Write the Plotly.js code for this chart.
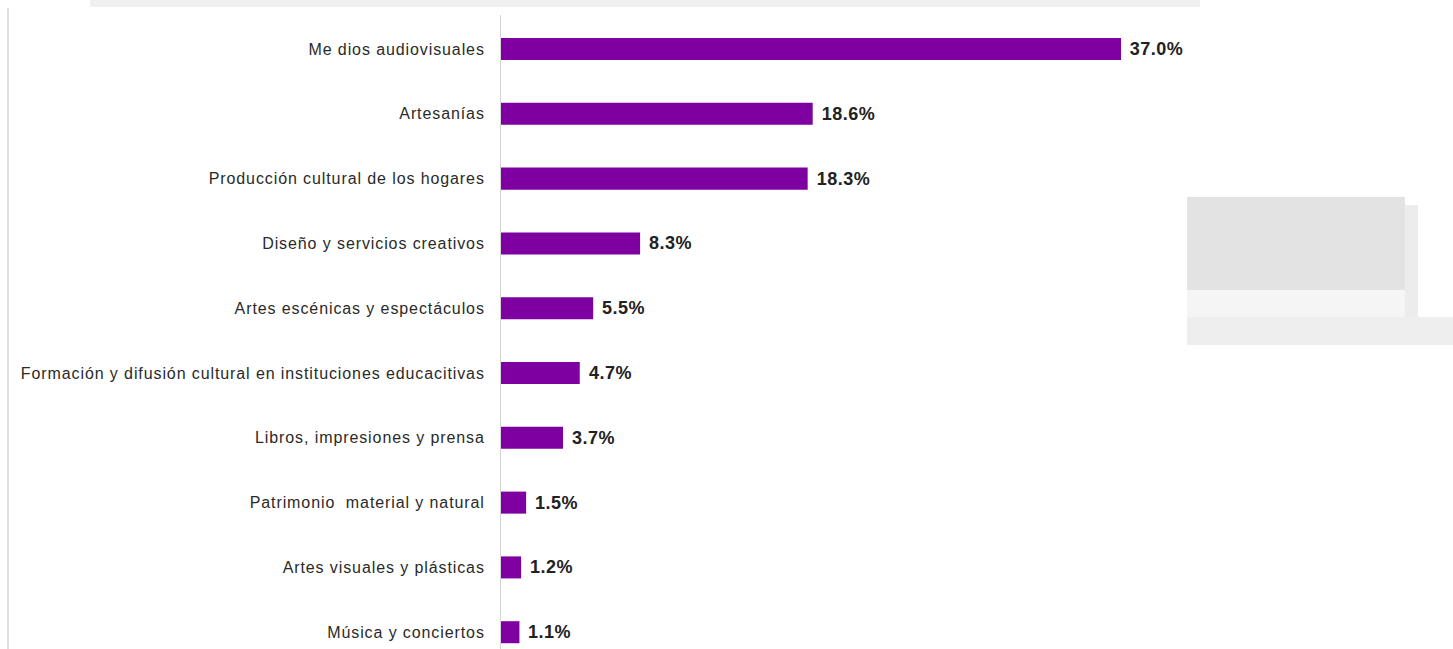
<!DOCTYPE html>
<html>
<head>
<meta charset="utf-8">
<script src="https://cdn.plot.ly/plotly-3.0.1.min.js"></script>
<style>
html,body{margin:0;padding:0;background:#fff;}
#chart{width:1453px;height:649px;}
#chart .ytick text{letter-spacing:0.9px;}
#chart .annotation-text{letter-spacing:0.5px;}
</style>
</head>
<body>
<div id="chart"></div>
<script>
const categories = [
  "Me dios audiovisuales",
  "Artesanías",
  "Producción cultural de los hogares",
  "Diseño y servicios creativos",
  "Artes escénicas y espectáculos",
  "Formación y difusión cultural en instituciones educacitivas",
  "Libros, impresiones y prensa",
  "Patrimonio  material y natural",
  "Artes visuales y plásticas",
  "Música y conciertos"
];
const values = [37.0, 18.6, 18.3, 8.3, 5.5, 4.7, 3.7, 1.5, 1.2, 1.1];
const valueLabels = values.map(v => v.toFixed(1) + "%");

const barColor = "#7E00A1";

const trace = {
  type: "bar",
  orientation: "h",
  x: values,
  y: categories,
  marker: {color: barColor, line: {width: 0}},
  width: 0.34,
  hoverinfo: "skip"
};

const annotations = values.map((v, i) => ({
  x: v, y: categories[i], xref: "x", yref: "y",
  text: "<b>" + valueLabels[i] + "</b>",
  showarrow: false, xanchor: "left", yanchor: "middle", xshift: 8,
  font: {family: "Liberation Sans, Arial, sans-serif", size: 18, color: "#222"}
}));

const P = x => (x - 501) / 952;      // page px -> paper x
const Q = y => (649 - y) / 634;      // page px -> paper y

const layout = {
  width: 1453, height: 649,
  margin: {l: 501, r: 0, t: 15, b: 0, pad: 0},
  paper_bgcolor: "#fff", plot_bgcolor: "#fff",
  showlegend: false,
  xaxis: {range: [0, 56.81], visible: false, showgrid: false, zeroline: false, fixedrange: true},
  yaxis: {
    type: "category",
    range: [9.259, -0.525],
    showgrid: false, zeroline: false,
    showline: true, linecolor: "#d4d4d4", linewidth: 1,
    ticks: "outside", ticklen: 12, tickcolor: "rgba(0,0,0,0)",
    tickfont: {family: "Liberation Sans, Arial, sans-serif", size: 16, color: "#2a2a2a"},
    automargin: false
  },
  annotations: annotations,
  shapes: [
    {type: "line", xref: "paper", yref: "paper", x0: P(8), x1: P(8), y0: 0, y1: Q(8), line: {color: "#d6d6d6", width: 1.5}},
    {type: "rect", xref: "paper", yref: "paper", x0: P(90), x1: P(1200), y0: Q(7), y1: Q(0), line: {width: 0}, fillcolor: "#f0f0f0", layer: "below"},
    {type: "rect", xref: "paper", yref: "paper", x0: P(1187), x1: P(1405), y0: Q(290), y1: Q(197), line: {width: 0}, fillcolor: "#e3e3e3", layer: "below"},
    {type: "rect", xref: "paper", yref: "paper", x0: P(1187), x1: P(1405), y0: Q(317), y1: Q(290), line: {width: 0}, fillcolor: "#f5f5f5", layer: "below"},
    {type: "rect", xref: "paper", yref: "paper", x0: P(1187), x1: P(1453), y0: Q(345), y1: Q(317), line: {width: 0}, fillcolor: "#eeeeee", layer: "below"},
    {type: "rect", xref: "paper", yref: "paper", x0: P(1405), x1: P(1418), y0: Q(317), y1: Q(205), line: {width: 0}, fillcolor: "#ececec", layer: "below"}
  ]
};

Plotly.newPlot("chart", [trace], layout, {displayModeBar: false, staticPlot: true});
</script>
</body>
</html>
